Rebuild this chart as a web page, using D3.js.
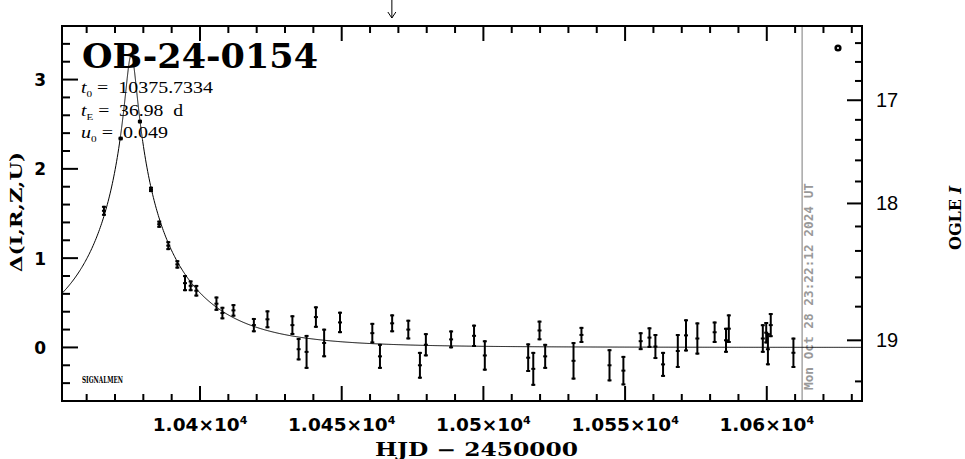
<!DOCTYPE html>
<html><head><meta charset="utf-8">
<script src="https://cdn.jsdelivr.net/npm/d3@7"></script>
<style>body{margin:0;background:#fff}svg{display:block}</style>
</head><body>
<svg id="c" width="965" height="459"></svg>
<script>
// ---- data ----
const hjd = [10366.1, 10372.0, 10378.8, 10382.7, 10385.6, 10388.8, 10392.0, 10394.7, 10396.7, 10398.7,
  10405.8, 10407.9, 10411.8, 10419.0, 10423.8, 10432.6, 10434.8, 10437.6, 10440.9, 10443.8,
  10449.4, 10460.8, 10463.5, 10467.8, 10473.5, 10477.6, 10479.7, 10488.6, 10496.7, 10500.5,
  10515.8, 10517.6, 10519.8, 10521.8, 10531.8, 10534.6, 10544.5, 10549.4, 10555.5, 10558.6,
  10560.7, 10563.4, 10568.6, 10571.5, 10575.5, 10581.6, 10585.6, 10586.6, 10598.6, 10599.8,
  10600.4, 10601.4, 10609.4];
const delta = [1.53, 2.34, 2.53, 1.77, 1.38, 1.14, 0.93, 0.72, 0.69, 0.635,
  0.49, 0.385, 0.415, 0.25, 0.315, 0.25, -0.02, -0.05, 0.34, 0.05,
  0.28, 0.16, -0.10, 0.27, 0.20, -0.20, 0.03, 0.09, 0.13, -0.09,
  -0.115, -0.24, 0.19, -0.10, -0.15, 0.14, -0.20, -0.26, 0.07, 0.11,
  0.01, -0.19, -0.04, 0.135, 0.10, 0.17, 0.08, 0.21, 0.10, 0.165,
  -0.02, 0.25, -0.06];
const deltaErr = [0.056, 0.02, 0.02, 0.03, 0.04, 0.05, 0.047, 0.09, 0.06, 0.065,
  0.08, 0.07, 0.07, 0.08, 0.10, 0.11, 0.125, 0.19, 0.12, 0.16,
  0.12, 0.115, 0.14, 0.10, 0.11, 0.15, 0.13, 0.10, 0.125, 0.17,
  0.16, 0.19, 0.11, 0.14, 0.21, 0.09, 0.18, 0.165, 0.10, 0.115,
  0.14, 0.14, 0.19, 0.18, 0.18, 0.12, 0.14, 0.16, 0.16, 0.12,
  0.18, 0.135, 0.17];

// fit parameters shown on the chart
const fitT0 = 10375.7334, fitTE = 36.98, fitU0 = 0.049;
// photometry baseline for the right-hand magnitude axis
const baseMag = 19.038, blendFs = 0.4688;

const xDomain = [10351.3, 10633.6];
const yDomain = [-0.6, 3.6];
const xMajorTicks = [10400, 10450, 10500, 10550, 10600];
const xTickLabels = ["1.04×10", "1.045×10", "1.05×10", "1.055×10", "1.06×10"];
const yMajorTicks = [0, 1, 2, 3];
const magMajorTicks = [17, 18, 19];
const nowHJD = 10612.47;
const nowLabel = "Mon Oct 28 23:22:12 2024 UT";
const arrowHJD = 10467.7;

// ---- layout ----
const L = 62, R = 862, T = 26, B = 401;
const svg = d3.select("#c");
const x = d3.scaleLinear().domain(xDomain).range([L, R]);
const y = d3.scaleLinear().domain(yDomain).range([B, T]);
const magToDelta = m => 2.5 * Math.log10(1 + (Math.pow(10, -0.4 * (m - baseMag)) - 1) / blendFs);

svg.append("clipPath").attr("id", "clip").append("rect")
  .attr("x", L).attr("y", T).attr("width", R - L).attr("height", B - T);

// ticks
const tickG = svg.append("g").attr("stroke", "#000").attr("stroke-width", 2);
const xMinor = d3.range(10360, 10640, 10).filter(v => v > xDomain[0] && v < xDomain[1]);
xMinor.forEach(v => {
  const len = (v % 50 === 0) ? 15 : 7;
  tickG.append("line").attr("x1", x(v)).attr("x2", x(v)).attr("y1", B).attr("y2", B - len);
  tickG.append("line").attr("x1", x(v)).attr("x2", x(v)).attr("y1", T).attr("y2", T + len);
});
const yMinor = d3.range(-4, 18).map(i => i * 0.2).filter(v => v > yDomain[0] + 1e-6 && v < yDomain[1] - 1e-6);
yMinor.forEach(v => {
  const major = Math.abs(v - Math.round(v)) < 1e-6;
  tickG.append("line").attr("x1", L).attr("x2", L + (major ? 16 : 8)).attr("y1", y(v)).attr("y2", y(v));
});
const magMinor = d3.range(0, 15).map(i => +(16.4 + i * 0.2).toFixed(1));
magMinor.forEach(m => {
  const d = magToDelta(m);
  if (!(d > yDomain[0] && d < yDomain[1])) return;
  const major = Math.abs(m - Math.round(m)) < 1e-6;
  tickG.append("line").attr("x1", R).attr("x2", R - (major ? 15 : 7)).attr("y1", y(d)).attr("y2", y(d));
});

// now line
svg.append("line").attr("x1", x(nowHJD)).attr("x2", x(nowHJD)).attr("y1", T).attr("y2", B)
  .attr("stroke", "#999").attr("stroke-width", 1.3);
svg.append("text")
  .attr("transform", `translate(${x(nowHJD) + 11},390) rotate(-90)`)
  .attr("font-family", "DejaVu Sans Mono").attr("font-weight", "bold").attr("font-size", 11.5)
  .attr("fill", "#999").attr("textLength", 207).attr("lengthAdjust", "spacingAndGlyphs")
  .text(nowLabel);

// model curve
const tSamples = [];
for (let t = xDomain[0]; t <= xDomain[1]; t += 0.25) tSamples.push(t);
for (let t = fitT0 - 4; t <= fitT0 + 4; t += 0.02) tSamples.push(t);
tSamples.push(fitT0);
tSamples.sort((a, b) => a - b);
const model = t => {
  const tau = (t - fitT0) / fitTE, u = Math.sqrt(fitU0 * fitU0 + tau * tau);
  const A = (u * u + 2) / (u * Math.sqrt(u * u + 4));
  return 2.5 * Math.log10(A);
};
svg.append("path").attr("clip-path", "url(#clip)")
  .attr("d", d3.line().x(t => x(t)).y(t => y(model(t)))(tSamples))
  .attr("fill", "none").attr("stroke", "#000").attr("stroke-width", 1);

// data error bars
const eb = svg.append("g").attr("stroke", "#000").attr("stroke-width", 2).attr("clip-path", "url(#clip)");
hjd.forEach((t, i) => {
  const cx = x(t), y1 = y(delta[i] + deltaErr[i]), y2 = y(delta[i] - deltaErr[i]), cy = y(delta[i]);
  eb.append("line").attr("x1", cx).attr("x2", cx).attr("y1", y1).attr("y2", y2);
  eb.append("line").attr("x1", cx - 2).attr("x2", cx + 2).attr("y1", y1 + 1).attr("y2", y1 + 1);
  eb.append("line").attr("x1", cx - 2).attr("x2", cx + 2).attr("y1", y2 - 1).attr("y2", y2 - 1);
  eb.append("line").attr("x1", cx - 2).attr("x2", cx + 2).attr("y1", cy).attr("y2", cy);
});

// frame
svg.append("rect").attr("x", L).attr("y", T).attr("width", R - L).attr("height", B - T)
  .attr("fill", "none").attr("stroke", "#000").attr("stroke-width", 2);

// small circle marker top right
svg.append("circle").attr("cx", 838).attr("cy", 48).attr("r", 2.3)
  .attr("fill", "none").attr("stroke", "#000").attr("stroke-width", 2.6);

// arrow at top
const ax = x(arrowHJD);
svg.append("path").attr("d", `M${ax},0 L${ax},18 M${ax - 4},12 L${ax},18 L${ax + 4},12`)
  .attr("fill", "none").attr("stroke", "#000").attr("stroke-width", 1);

// x tick labels
xMajorTicks.forEach((v, i) => {
  const t = svg.append("text").attr("x", x(v)).attr("y", 431).attr("text-anchor", "middle")
    .attr("font-family", "DejaVu Sans").attr("font-weight", "bold").attr("font-size", 18.5);
  t.append("tspan").text(xTickLabels[i]);
  t.append("tspan").attr("dy", -7).attr("font-size", 11).text("4");
});
// left tick labels
yMajorTicks.forEach(v => {
  svg.append("text").attr("x", 46).attr("y", y(v) + 6.5).attr("text-anchor", "end")
    .attr("font-family", "DejaVu Sans").attr("font-weight", "bold").attr("font-size", 17).text(v);
});
// right tick labels
magMajorTicks.forEach(m => {
  svg.append("text").attr("x", 876).attr("y", y(magToDelta(m)) + 7)
    .attr("font-family", "Liberation Sans").attr("font-size", 20).text(m);
});

// axis titles
svg.append("text").attr("x", 375).attr("y", 456)
  .attr("font-family", "DejaVu Serif").attr("font-weight", "bold").attr("font-size", 18)
  .attr("textLength", 203).attr("lengthAdjust", "spacingAndGlyphs").text("HJD − 2450000");
svg.append("text").attr("transform", "translate(22,272) rotate(-90)")
  .attr("font-family", "DejaVu Serif").attr("font-weight", "bold").attr("font-size", 17)
  .attr("textLength", 120).attr("lengthAdjust", "spacingAndGlyphs").text("Δ(I,R,Z,U)");
const og = svg.append("text").attr("transform", "translate(961,250) rotate(-90)")
  .attr("font-family", "DejaVu Serif").attr("font-weight", "bold").attr("font-size", 16);
og.append("tspan").text("OGLE ");
og.append("tspan").attr("font-style", "italic").text("I");

// title and parameters
svg.append("text").attr("x", 82).attr("y", 68)
  .attr("font-family", "DejaVu Serif").attr("font-weight", "bold").attr("font-size", 34)
  .attr("textLength", 236).attr("lengthAdjust", "spacingAndGlyphs").text("OB-24-0154");
const params = [["t", "0", " =  10375.7334", 93, 132], ["t", "E", " =  36.98  d", 116, 102], ["u", "0", " =  0.049", 138, 87]];
params.forEach(p => {
  const t = svg.append("text").attr("x", 81).attr("y", p[3]).attr("xml:space", "preserve")
    .attr("font-family", "Liberation Serif").attr("font-size", 16)
    .attr("textLength", p[4]).attr("lengthAdjust", "spacingAndGlyphs");
  t.append("tspan").attr("font-style", "italic").text(p[0]);
  t.append("tspan").attr("dy", 4).attr("font-size", 9).text(p[1]);
  t.append("tspan").attr("dy", -4).text(p[2]);
});
svg.append("text").attr("x", 82).attr("y", 383)
  .attr("font-family", "DejaVu Serif").attr("font-weight", "bold").attr("font-size", 8.5)
  .attr("textLength", 41).attr("lengthAdjust", "spacingAndGlyphs").text("SIGNALMEN");
</script>
</body></html>
